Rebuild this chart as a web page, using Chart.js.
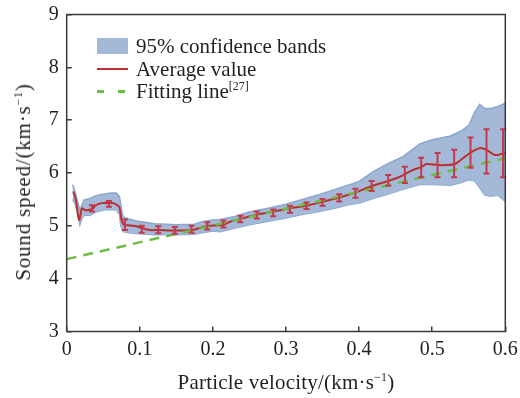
<!DOCTYPE html>
<html>
<head>
<meta charset="utf-8">
<script src="https://cdn.jsdelivr.net/npm/chart.js@4.4.0/dist/chart.umd.min.js"></script>
<style>
  html, body { margin: 0; padding: 0; background: #fff; }
  #wrap { position: relative; width: 520px; height: 398px; font-family: "Liberation Serif", "Times New Roman", serif; color: #231f20; }
  #chart { position: absolute; left: 0; top: 0; }
  .txt { position: absolute; font-size: 21px; line-height: 24px; white-space: nowrap; }
  sup { font-size: 12px; vertical-align: 8px; line-height: 0; }
  #ytitle { left: 23px; top: 182px; letter-spacing: 0.8px; transform: translate(-50%, -50%) rotate(-90deg); }
  #xtitle { left: 286px; top: 370px; letter-spacing: 0.2px; transform: translateX(-50%); }
  .sw { position: absolute; }
</style>
</head>
<body>
<div id="wrap">
  <canvas id="chart" width="520" height="398"></canvas>
  <div class="txt" id="ytitle">Sound speed/(km·s<sup>−1</sup>)</div>
  <div class="txt" id="xtitle">Particle velocity/(km·s<sup>−1</sup>)</div>

  <div class="sw" style="left:97px;top:38px;width:31px;height:16px;background:#a3b9d7;"></div>
  <div class="txt" style="left:136px;top:34px;">95% confidence bands</div>
  <div class="sw" style="left:97px;top:68px;width:31px;height:2px;background:#b8312f;"></div>
  <div class="txt" style="left:136px;top:57px;">Average value</div>
  <div class="sw" style="left:97px;top:90px;width:7px;height:2.5px;background:#6dbd45;"></div>
  <div class="sw" style="left:118px;top:90px;width:7px;height:2.5px;background:#6dbd45;"></div>
  <div class="txt" style="left:136px;top:79px;">Fitting line<sup>[27]</sup></div>
</div>
<script>
// tick labels
const xTicks = [0, 0.1, 0.2, 0.3, 0.4, 0.5, 0.6];
const yTicks = [3, 4, 5, 6, 7, 8, 9];

// average sound speed
const avgX = [0.009, 0.0125, 0.017, 0.021, 0.025, 0.030, 0.035, 0.040, 0.048, 0.057, 0.064, 0.069, 0.072,
  0.075, 0.078, 0.083, 0.092, 0.103, 0.114, 0.125, 0.148, 0.171, 0.182, 0.193, 0.214, 0.226, 0.237,
  0.260, 0.2825, 0.305, 0.328, 0.351, 0.374, 0.395, 0.417, 0.440, 0.451, 0.463, 0.474, 0.485, 0.492,
  0.508, 0.520, 0.531, 0.542, 0.554, 0.565, 0.574, 0.586, 0.597, 0.600];
const avgY = [5.65, 5.49, 5.11, 5.33, 5.30, 5.30, 5.32, 5.39, 5.43, 5.43, 5.43, 5.39, 5.36,
  5.11, 5.02, 5.01, 5.00, 4.96, 4.92, 4.92, 4.91, 4.92, 4.96, 5.00, 5.02, 5.09, 5.13,
  5.21, 5.27, 5.33, 5.38, 5.46, 5.54, 5.63, 5.75, 5.85, 5.90, 5.98, 6.06, 6.11, 6.17,
  6.15, 6.15, 6.17, 6.28, 6.40, 6.47, 6.44, 6.34, 6.37, 6.37];

// 95% confidence band
const bandX = [0.008, 0.012, 0.015, 0.018, 0.021, 0.024, 0.032, 0.040, 0.050, 0.060, 0.068, 0.072, 0.074,
  0.077, 0.085, 0.100, 0.120, 0.150, 0.175, 0.185, 0.200, 0.210, 0.228, 0.250, 0.274, 0.300, 0.320,
  0.345, 0.365, 0.385, 0.400, 0.420, 0.440, 0.460, 0.483, 0.500, 0.525, 0.540, 0.550, 0.558, 0.565,
  0.572, 0.580, 0.590, 0.600];
const bandUpper = [5.78, 5.62, 5.45, 5.30, 5.40, 5.49, 5.52, 5.57, 5.60, 5.62, 5.62, 5.56, 5.40,
  5.17, 5.13, 5.08, 5.04, 5.02, 5.03, 5.08, 5.11, 5.12, 5.17, 5.26, 5.33, 5.41, 5.49,
  5.59, 5.68, 5.77, 5.84, 6.03, 6.18, 6.31, 6.55, 6.63, 6.70, 6.80, 6.90, 7.15, 7.30,
  7.22, 7.22, 7.26, 7.32];
const bandLower = [5.50, 5.40, 5.22, 5.02, 5.15, 5.20, 5.20, 5.26, 5.30, 5.31, 5.30, 5.22, 5.00,
  4.89, 4.87, 4.85, 4.83, 4.83, 4.84, 4.87, 4.90, 4.89, 4.95, 5.02, 5.08, 5.15, 5.21,
  5.27, 5.33, 5.40, 5.43, 5.52, 5.60, 5.69, 5.78, 5.78, 5.77, 5.82, 5.87, 5.85, 5.72,
  5.58, 5.56, 5.58, 5.46];

// error bars
const errX = [0.0346, 0.0578, 0.0797, 0.1026, 0.1253, 0.148, 0.1707, 0.1923, 0.2144, 0.2374, 0.26, 0.2825,
  0.3053, 0.328, 0.35, 0.3728, 0.395, 0.4172, 0.4398, 0.4626, 0.4849, 0.5073, 0.53, 0.5524, 0.5743, 0.597];
const errLow = [5.27, 5.36, 4.92, 4.87, 4.86, 4.85, 4.87, 4.93, 4.97, 5.07, 5.14, 5.18,
  5.25, 5.32, 5.38, 5.46, 5.53, 5.66, 5.76, 5.81, 5.92, 5.92, 5.92, 6.10, 5.99, 5.92];
const errHigh = [5.39, 5.47, 5.12, 5.00, 4.99, 4.98, 5.00, 5.07, 5.10, 5.19, 5.27, 5.31,
  5.38, 5.44, 5.51, 5.60, 5.70, 5.85, 5.96, 6.12, 6.29, 6.38, 6.44, 6.67, 6.83, 6.83];

// fitting line [27]
const fitX = [0, 0.6];
const fitY = [4.37, 6.28];

const pts = (xs, ys) => xs.map((x, i) => ({ x: x, y: ys[i] }));
const FONT = { family: '"Liberation Serif", "Times New Roman", serif', size: 20 };

const errorBars = {
  id: 'errorBars',
  afterDatasetsDraw(chart) {
    const { ctx, scales: { x, y } } = chart;
    ctx.save();
    ctx.strokeStyle = '#c4394f';
    ctx.lineWidth = 2;
    errX.forEach((v, i) => {
      const px = x.getPixelForValue(v);
      const top = y.getPixelForValue(errHigh[i]);
      const bot = y.getPixelForValue(errLow[i]);
      ctx.beginPath();
      ctx.moveTo(px, top); ctx.lineTo(px, bot);
      ctx.moveTo(px - 3, top); ctx.lineTo(px + 3, top);
      ctx.moveTo(px - 3, bot); ctx.lineTo(px + 3, bot);
      ctx.stroke();
    });
    ctx.restore();
  }
};

const frame = {
  id: 'frame',
  afterDraw(chart) {
    const { ctx, chartArea: a } = chart;
    ctx.save();
    ctx.strokeStyle = '#3a3a3a';
    ctx.lineWidth = 1.5;
    ctx.strokeRect(a.left, a.top, a.right - a.left, a.bottom - a.top);
    ctx.restore();
  }
};

new Chart(document.getElementById('chart').getContext('2d'), {
  type: 'line',
  data: {
    datasets: [
      {
        label: 'Fitting line',
        data: pts(fitX, fitY),
        borderColor: '#6dbd45',
        borderWidth: 2.5,
        borderDash: [10, 7],
        pointRadius: 0,
        fill: false,
        order: 1
      },
      {
        label: 'Average value',
        data: pts(avgX, avgY),
        borderColor: '#b8312f',
        borderWidth: 2,
        pointRadius: 0,
        tension: 0.3,
        fill: false,
        order: 2
      },
      {
        label: '95% confidence bands',
        data: pts(bandX, bandUpper),
        borderColor: '#8ba7cd',
        borderWidth: 1.5,
        backgroundColor: '#a3b9d7',
        pointRadius: 0,
        fill: '+1',
        order: 3
      },
      {
        label: 'lower',
        data: pts(bandX, bandLower),
        borderColor: '#8ba7cd',
        borderWidth: 1.5,
        pointRadius: 0,
        fill: false,
        order: 4
      }
    ]
  },
  options: {
    responsive: false,
    animation: false,
    layout: { padding: { top: 14.5, right: 14.7, left: 0, bottom: 0 } },
    plugins: { legend: { display: false }, tooltip: { enabled: false } },
    scales: {
      x: {
        type: 'linear',
        min: 0, max: 0.6,
        afterBuildTicks: s => { s.ticks = xTicks.map(v => ({ value: v })); },
        afterFit: s => { s.height = 66.5; s.paddingLeft = 0; s.paddingRight = 0; },
        border: { display: false },
        grid: { drawOnChartArea: false, tickLength: -5, color: '#3a3a3a', lineWidth: 1.5 },
        ticks: {
          color: '#231f20', font: FONT, padding: 11, maxRotation: 0, autoSkip: false,
          callback: v => v === 0 ? '0' : v.toFixed(1)
        }
      },
      y: {
        min: 3, max: 9,
        afterBuildTicks: s => { s.ticks = yTicks.map(v => ({ value: v })); },
        afterFit: s => { s.width = 66.7; s.paddingTop = 0; s.paddingBottom = 0; },
        border: { display: false },
        grid: { drawOnChartArea: false, tickLength: -5, color: '#3a3a3a', lineWidth: 1.5 },
        ticks: { color: '#231f20', font: FONT, padding: 13, autoSkip: false }
      }
    }
  },
  plugins: [errorBars, frame]
});
</script>
</body>
</html>
